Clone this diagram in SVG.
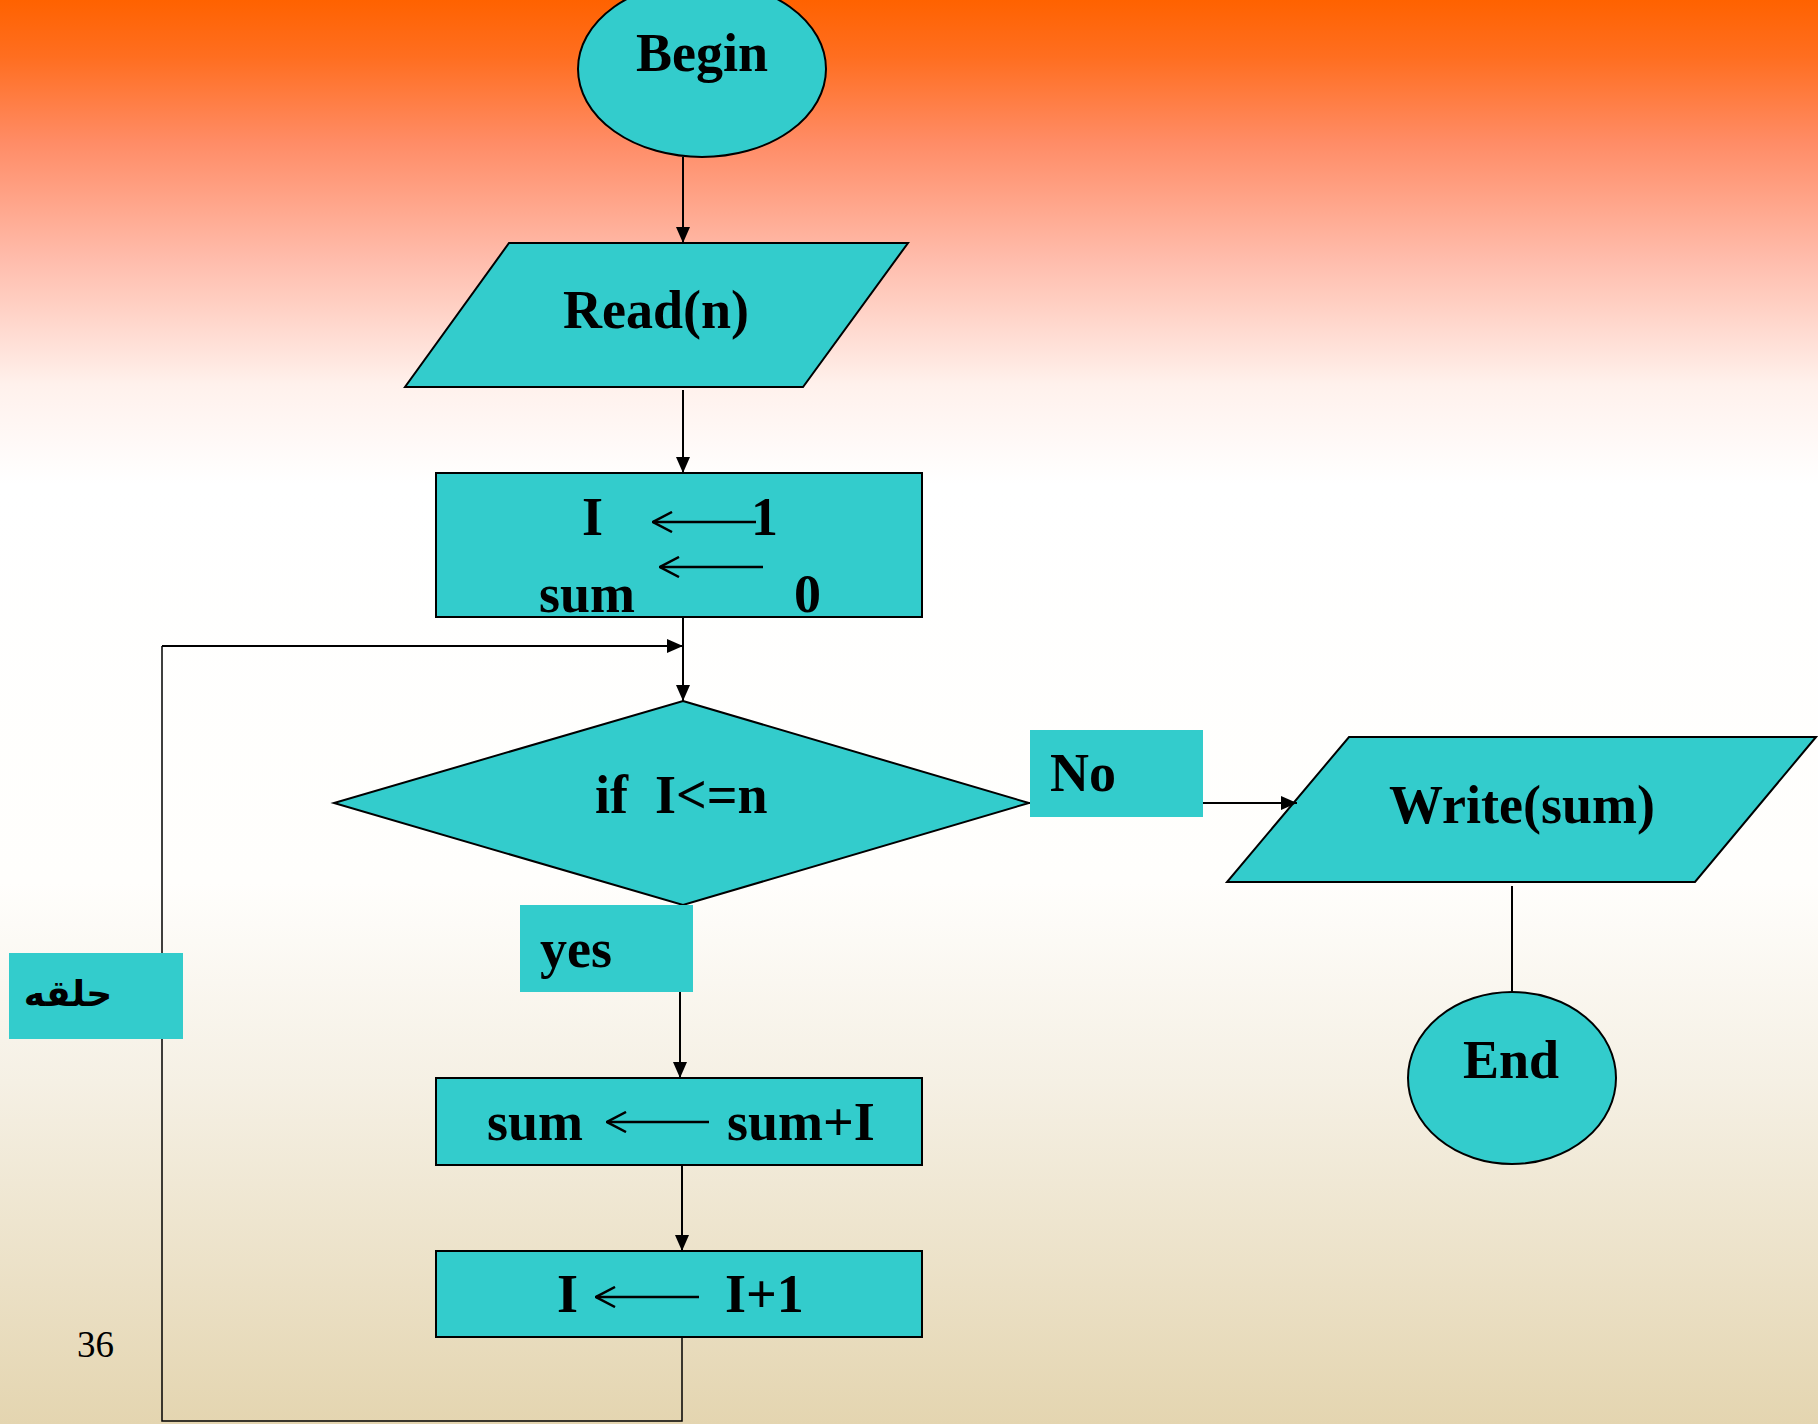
<svg xmlns="http://www.w3.org/2000/svg" width="1818" height="1424" viewBox="0 0 1818 1424">
  <defs>
    <linearGradient id="bg" x1="0" y1="0" x2="0" y2="1">
      <stop offset="0" stop-color="#FF6200"/>
      <stop offset="0.04" stop-color="#FF6E20"/>
      <stop offset="0.1" stop-color="#FF8C66"/>
      <stop offset="0.18" stop-color="#FFBBAA"/>
      <stop offset="0.27" stop-color="#FFF1EC"/>
      <stop offset="0.34" stop-color="#FFFFFF"/>
      <stop offset="0.62" stop-color="#FFFEFC"/>
      <stop offset="0.76" stop-color="#F5F0E4"/>
      <stop offset="1" stop-color="#E4D5B0"/>
    </linearGradient>
    <marker id="head" viewBox="0 0 16 14" refX="16" refY="7" markerWidth="16" markerHeight="14" markerUnits="userSpaceOnUse" orient="auto">
      <path d="M0,0 L16,7 L0,14 Z" fill="#000"/>
    </marker>
    <marker id="chev" viewBox="0 0 22 22" refX="1" refY="11" markerWidth="22" markerHeight="22" markerUnits="userSpaceOnUse" orient="auto">
      <path d="M20,1 L1,11 L20,21" fill="none" stroke="#000" stroke-width="2.5"/>
    </marker>
  </defs>
  <style>
    .shape { fill: #33CCCC; stroke: #000; stroke-width: 2; }
    .tag { fill: #33CCCC; stroke: none; }
    .t { font-family: "Liberation Serif", "Times New Roman", serif; font-weight: bold; font-size: 54px; fill: #000; }
    .ar { font-family: "DejaVu Sans", "Noto Sans", sans-serif; font-weight: bold; font-size: 36px; fill: #000; }
    .num { font-family: "Liberation Serif", "Times New Roman", serif; font-size: 37px; fill: #000; }
    .assign { stroke: #000; stroke-width: 2.5; fill: none; marker-start: url(#chev); }
    .edge { stroke: #000; stroke-width: 2; fill: none; }
    .arrow { marker-end: url(#head); }
    .thin { stroke-width: 1.5; }
  </style>

  <rect x="0" y="0" width="1818" height="1424" fill="url(#bg)"/>

  <!-- start terminal -->
  <g id="begin">
    <ellipse class="shape" cx="702" cy="69" rx="124" ry="88"/>
    <text class="t" x="702" y="71" text-anchor="middle">Begin</text>
  </g>

  <!-- input n -->
  <g id="read">
    <polygon class="shape" points="509,243 908,243 803,387 405,387"/>
    <text class="t" x="656" y="328" text-anchor="middle">Read(n)</text>
  </g>

  <!-- initialisation -->
  <g id="init">
    <rect class="shape" x="436" y="473" width="486" height="144"/>
    <text class="t" x="582" y="535">I</text>
    <line class="assign" x1="653" y1="522" x2="756" y2="522"/>
    <text class="t" x="751" y="535">1</text>
    <line class="assign" x1="660" y1="567" x2="763" y2="567"/>
    <text class="t" x="539" y="612">sum</text>
    <text class="t" x="794" y="612">0</text>
  </g>

  <!-- loop test -->
  <g id="test">
    <polygon class="shape" points="683,701 1029,803 683,905 334,803"/>
    <text class="t" x="595" y="813" xml:space="preserve">if  I&lt;=n</text>
  </g>

  <!-- output sum -->
  <g id="write">
    <polygon class="shape" points="1349,737 1816,737 1695,882 1227,882"/>
    <text class="t" x="1522" y="823" text-anchor="middle">Write(sum)</text>
  </g>

  <!-- end terminal -->
  <g id="end">
    <ellipse class="shape" cx="1512" cy="1078" rx="104" ry="86"/>
    <text class="t" x="1511" y="1078" text-anchor="middle">End</text>
  </g>

  <!-- accumulate -->
  <g id="accumulate">
    <rect class="shape" x="436" y="1078" width="486" height="87"/>
    <text class="t" x="487" y="1140">sum</text>
    <line class="assign" x1="607" y1="1122" x2="709" y2="1122"/>
    <text class="t" x="727" y="1140">sum+I</text>
  </g>

  <!-- increment -->
  <g id="increment">
    <rect class="shape" x="436" y="1251" width="486" height="86"/>
    <text class="t" x="557" y="1312">I</text>
    <line class="assign" x1="596" y1="1297" x2="699" y2="1297"/>
    <text class="t" x="725" y="1312">I+1</text>
  </g>

  <!-- connectors -->
  <g id="connectors">
    <line class="edge arrow" x1="683" y1="157" x2="683" y2="243"/>
    <line class="edge arrow" x1="683" y1="390" x2="683" y2="473"/>
    <line class="edge arrow" x1="683" y1="617" x2="683" y2="701"/>
    <line class="edge arrow" x1="1029" y1="803" x2="1297" y2="803"/>
    <line class="edge arrow" x1="680" y1="905" x2="680" y2="1078"/>
    <line class="edge arrow" x1="682" y1="1165" x2="682" y2="1251"/>
    <polyline class="edge thin" points="682,1337 682,1421 162,1421 162,646"/>
    <line class="edge arrow" x1="162" y1="646" x2="683" y2="646"/>
    <line class="edge" stroke-width="1.2" x1="1512" y1="886" x2="1512" y2="992"/>
  </g>

  <!-- branch labels -->
  <g id="label-no">
    <rect class="tag" x="1030" y="730" width="173" height="87"/>
    <text class="t" x="1050" y="791">No</text>
  </g>
  <g id="label-yes">
    <rect class="tag" x="520" y="905" width="173" height="87"/>
    <text class="t" x="540" y="967">yes</text>
  </g>
  <g id="label-loop">
    <rect class="tag" x="9" y="953" width="174" height="86"/>
    <text class="ar" x="68" y="1006" text-anchor="middle">حلقه</text>
  </g>

  <text class="num" x="77" y="1357">36</text>
</svg>
